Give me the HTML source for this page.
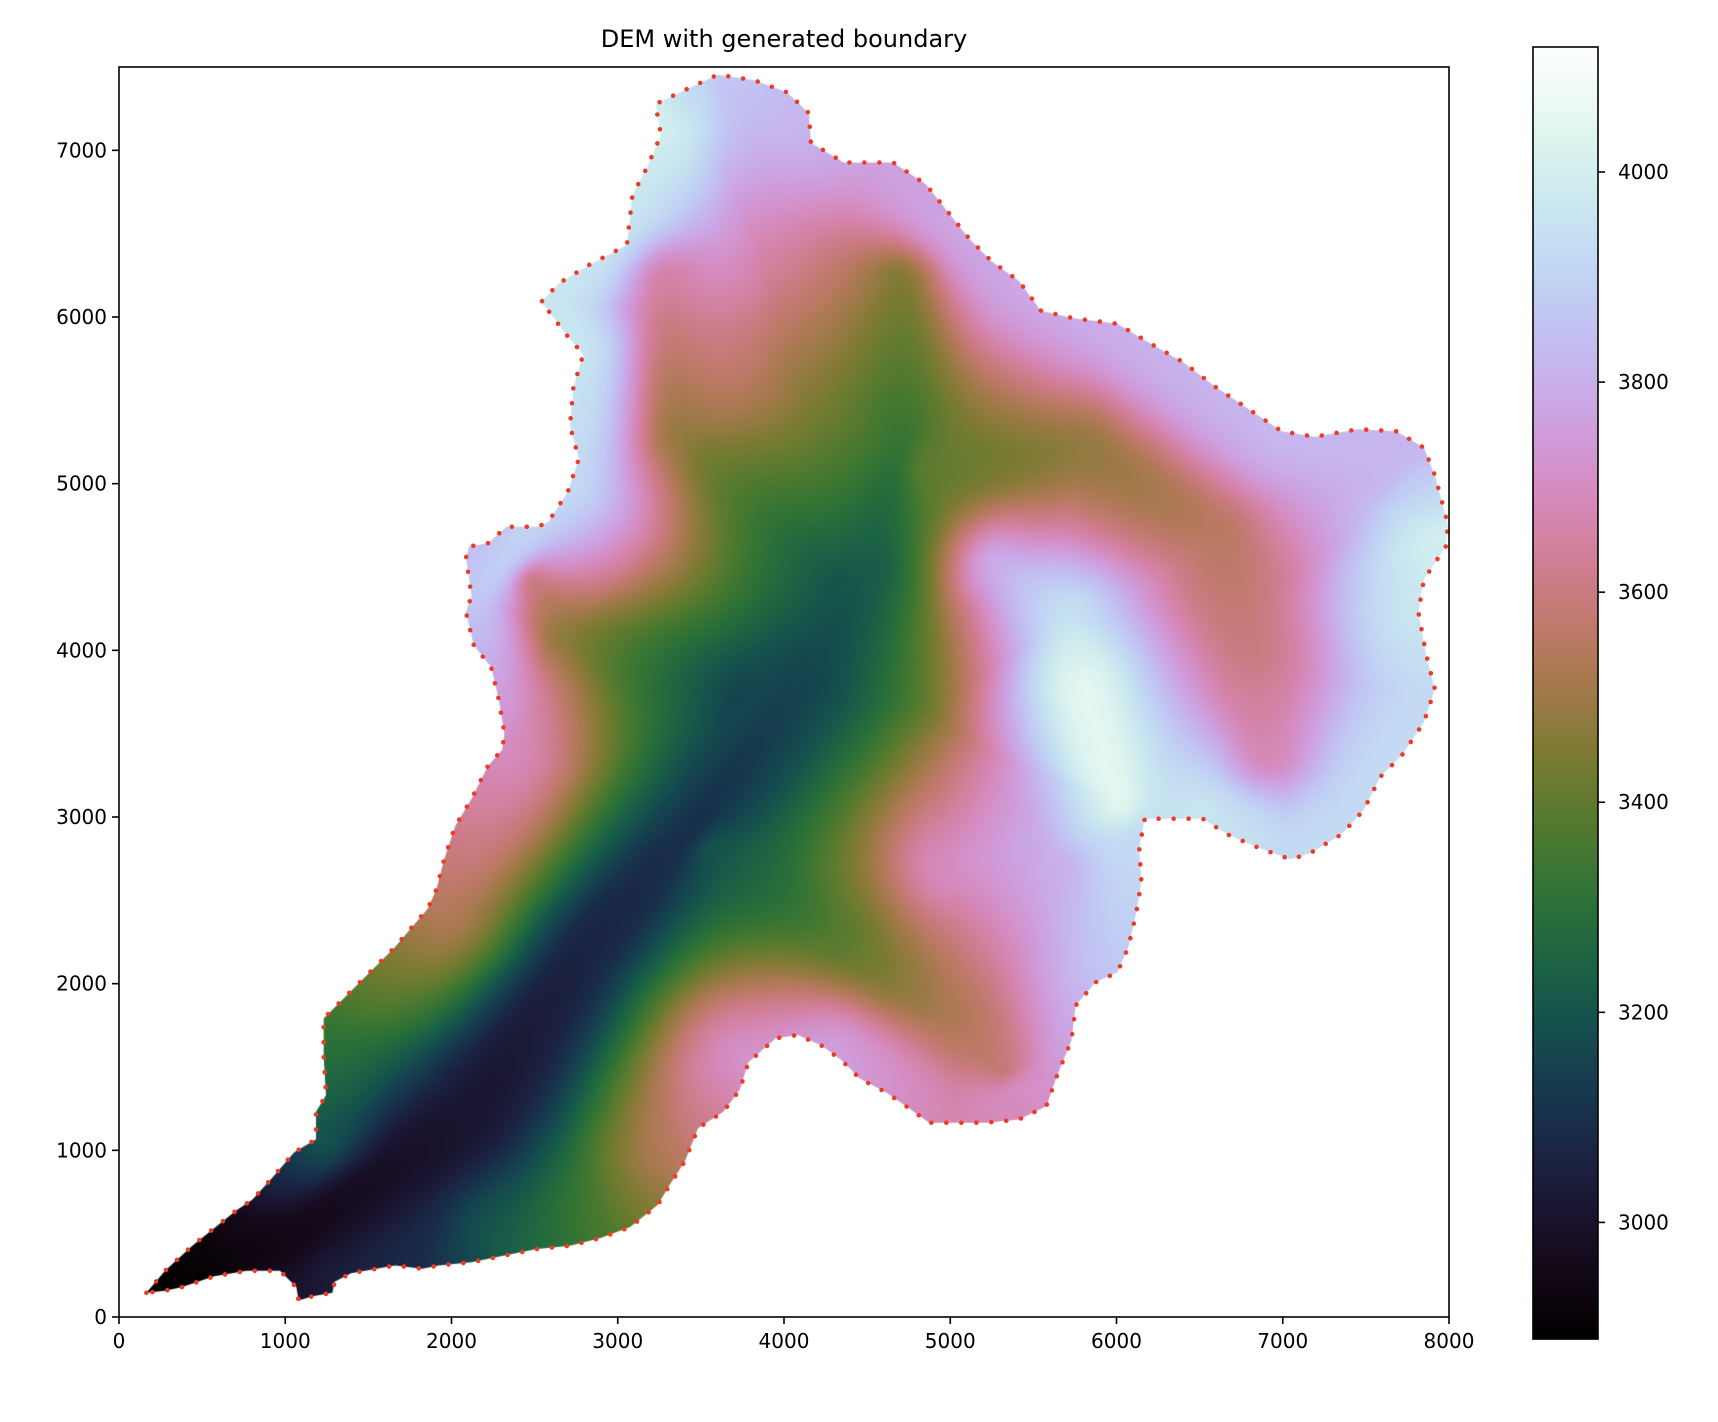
<!DOCTYPE html>
<html><head><meta charset="utf-8">
<style>
html,body{margin:0;padding:0;background:#fff;}
#root{position:relative;width:1718px;height:1422px;overflow:hidden;font-family:"DejaVu Sans","Liberation Sans",sans-serif;}
canvas,svg{position:absolute;left:0;top:0;}
</style></head>
<body>
<div id="root">
<canvas id="dem" width="1718" height="1422"></canvas>
<canvas id="cbar" width="1718" height="1422"></canvas>
<svg id="ov" width="1718" height="1422"></svg>
</div>
<script>
// ---- data (data units: metres, elevation m) ----
const xTicks=[0,1000,2000,3000,4000,5000,6000,7000,8000];
const yTicks=[0,1000,2000,3000,4000,5000,6000,7000];
const cbarTicks=[3000,3200,3400,3600,3800,4000];
const vmin=2889, vmax=4119;
const boundary=[[165,145],[277,277],[441,428],[606,560],[705,639],[803,705],[922,836],[1054,988],[1185,1067],[1185,1231],[1245,1330],[1231,1561],[1231,1791],[1330,1890],[1462,2022],[1659,2219],[1857,2450],[1910,2568],[1956,2746],[2022,2944],[2120,3108],[2219,3306],[2305,3404],[2318,3503],[2285,3701],[2239,3898],[2134,4030],[2087,4228],[2120,4326],[2087,4557],[2107,4623],[2219,4642],[2331,4741],[2515,4741],[2581,4768],[2700,4952],[2766,5149],[2713,5347],[2733,5578],[2792,5775],[2680,5907],[2568,6058],[2535,6085],[2647,6203],[2832,6315],[2996,6401],[3055,6434],[3088,6730],[3174,6894],[3260,7092],[3227,7277],[3404,7362],[3602,7454],[3819,7421],[4017,7349],[4149,7224],[4162,7046],[4359,6927],[4656,6927],[4853,6796],[4985,6631],[5117,6467],[5248,6335],[5413,6216],[5545,6038],[5742,5992],[6006,5959],[6203,5841],[6401,5729],[6598,5578],[6796,5446],[6993,5314],[7191,5281],[7454,5327],[7684,5314],[7849,5215],[7915,5051],[7968,4853],[7994,4754],[7981,4623],[7849,4425],[7816,4228],[7862,3977],[7915,3767],[7849,3569],[7718,3372],[7586,3240],[7487,3042],[7355,2897],[7158,2779],[7046,2746],[6862,2812],[6664,2897],[6519,2990],[6170,2990],[6137,2812],[6150,2614],[6117,2417],[6071,2219],[6006,2068],[5874,2008],[5755,1870],[5729,1659],[5643,1449],[5578,1264],[5413,1185],[5215,1166],[5051,1166],[4873,1166],[4754,1251],[4610,1350],[4458,1429],[4346,1541],[4228,1627],[4083,1692],[3951,1673],[3786,1528],[3734,1363],[3635,1231],[3483,1133],[3404,935],[3319,803],[3240,672],[3075,540],[2897,474],[2713,428],[2515,408],[2318,369],[2120,329],[1923,309],[1824,290],[1659,309],[1396,263],[1297,211],[1284,145],[1166,125],[1080,99],[1067,178],[968,277],[770,277],[573,244],[375,178],[277,158]];
// terrain features [x, y, elevation]
const mainValley=[[200,200,2890],[1000,450,2950],[2100,1200,3010],[2800,2200,3060],[3500,3000,3100],[4100,3800,3150],[4500,4500,3220],[4700,5300,3330],[4700,6200,3450]];
const eastValley=[[4900,5100,3400],[5800,5200,3480],[6600,4700,3550],[6800,4000,3600],[6900,3400,3680]];
const southValley=[[3600,2800,3200],[4300,2300,3380],[5000,1800,3530],[5300,1500,3580]];
const nwTributary=[[4300,4400,3200],[3400,5300,3480],[3300,6200,3650]];
const wTributary=[[3700,3700,3150],[2700,4100,3470],[2500,4400,3600]];
const centralRidge=[[5000,2700,3700],[5600,2800,3800],[6000,3100,4050],[5800,3800,4050],[5700,4200,3950],[5300,4500,3800]];
const rimRidge=[[280,280,2890],[700,640,2960],[1185,1100,3200],[1231,1800,3330],[1900,2500,3550],[2300,3400,3700],[2100,4300,3870],[2700,5000,3920],[2750,5800,3960],[2600,6100,3960],[3100,6700,3960],[3250,7200,4000],[3600,7450,3870],[4100,7200,3820],[4600,6930,3760],[5400,6200,3780],[6000,5950,3800],[7000,5300,3820],[7800,5200,3820],[7990,4700,4000],[7850,4200,3960],[7900,3700,3920],[7400,3000,3920],[7050,2750,3920],[6500,3000,3960],[6150,2800,3920],[6000,2100,3870],[5600,1400,3720],[5000,1170,3670],[4300,1550,3760],[3800,1500,3720],[3400,900,3550],[3000,500,3380],[2300,370,3220],[1800,300,3080],[1300,200,3040],[1080,100,3000],[500,250,2900]];
const featureWeights=[1,1,1,1,1,1,1.6];

// ---- geometry ----
const X0=119,Y0=67,PW=1330,PH=1250,XMAX=8000,YMAX=7500;
function sx(v){return X0+v/XMAX*PW;}
function sy(v){return Y0+PH-v/YMAX*PH;}
const CB={x:1533,y:47,w:65,h:1292};
function cy(v){return CB.y+CB.h-(v-vmin)/(vmax-vmin)*CB.h;}

function cubehelix(x){
  x=Math.max(0,Math.min(1,x));
  const a=x*(1-x)/2, phi=2*Math.PI*(0.5/3-1.5*x), c=Math.cos(phi), s=Math.sin(phi);
  const r=x+a*(-0.14861*c+1.78277*s), g=x+a*(-0.29227*c-0.90649*s), b=x+a*(1.97294*c);
  const f=v=>Math.round(255*Math.max(0,Math.min(1,v)));
  return [f(r),f(g),f(b)];
}

// ---- DEM raster ----
const features=[mainValley,eastValley,southValley,nwTributary,wTributary,centralRidge,rimRidge];
function nearest(f,x,y){
  let best=1e18,ws=0,es=0;
  for(let i=0;i<f.length-1;i++){
    const ax=f[i][0],ay=f[i][1],bx=f[i+1][0],by=f[i+1][1];
    const dx=bx-ax,dy=by-ay,L=dx*dx+dy*dy;
    let t=L>0?((x-ax)*dx+(y-ay)*dy)/L:0; t=Math.max(0,Math.min(1,t));
    const px=ax+t*dx,py=ay+t*dy,d=(x-px)*(x-px)+(y-py)*(y-py);
    const e=f[i][2]+t*(f[i+1][2]-f[i][2]);
    const w=1/Math.pow(d+2500,2);
    ws+=w;es+=w*e;
    if(d<best)best=d;
  }
  return [best,es/ws];
}
const W2=665,H2=625;
const small=document.createElement('canvas');small.width=W2;small.height=H2;
const sc=small.getContext('2d');
const img=sc.createImageData(W2,H2);
for(let j=0;j<H2;j++){
  for(let i=0;i<W2;i++){
    const k=(j*W2+i)*4;
    const x=(i+0.5)/W2*XMAX,y=YMAX-(j+0.5)/H2*YMAX;
    let ws=0,es=0;
    for(let fi=0;fi<features.length;fi++){
      const r=nearest(features[fi],x,y);const w=featureWeights[fi]/(r[0]+400);ws+=w;es+=w*r[1];
    }
    const e=es/ws;
    const c=cubehelix((e-vmin)/(vmax-vmin));
    img.data[k]=c[0];img.data[k+1]=c[1];img.data[k+2]=c[2];img.data[k+3]=255;
  }
}
sc.putImageData(img,0,0);
const ctx=document.getElementById('dem').getContext('2d');
ctx.save();
ctx.beginPath();
boundary.forEach((p,i)=>{i?ctx.lineTo(sx(p[0]),sy(p[1])):ctx.moveTo(sx(p[0]),sy(p[1]));});
ctx.closePath();ctx.clip();
ctx.imageSmoothingEnabled=true;
ctx.drawImage(small,X0,Y0,PW,PH);
ctx.restore();

// ---- colorbar ----
const cb=document.getElementById('cbar').getContext('2d');
for(let p=0;p<CB.h;p++){
  const v=vmax-(p+0.5)/CB.h*(vmax-vmin);
  const c=cubehelix((v-vmin)/(vmax-vmin));
  cb.fillStyle='rgb('+c.join(',')+')';
  cb.fillRect(CB.x,CB.y+p,CB.w,1.2);
}

// ---- SVG overlay ----
const NS='http://www.w3.org/2000/svg';
const svg=document.getElementById('ov');
function mk(tag,attrs,parent){const e=document.createElementNS(NS,tag);for(const k in attrs)e.setAttribute(k,attrs[k]);(parent||svg).appendChild(e);return e;}

const bl=mk('polygon',{points:boundary.map(p=>sx(p[0]).toFixed(1)+','+sy(p[1]).toFixed(1)).join(' '),fill:'none',stroke:'#ee3b24','stroke-width':4.6,'stroke-dasharray':'0 15','stroke-linecap':'round'});



const frame=mk('rect',{x:X0,y:Y0,width:PW,height:PH,fill:'none',stroke:'#000','stroke-width':1.6});



xTicks.forEach(v=>{
  const g=mk('g',{});
  
  
  mk('line',{x1:sx(v),x2:sx(v),y1:Y0+PH,y2:Y0+PH+7,stroke:'#000','stroke-width':1.6},g);
  const t=mk('text',{x:sx(v),y:Y0+PH+31,'text-anchor':'middle','font-size':20,fill:'#000'},g);
  t.textContent=v;
});
yTicks.forEach(v=>{
  const g=mk('g',{});
  
  
  mk('line',{x1:X0-7,x2:X0,y1:sy(v),y2:sy(v),stroke:'#000','stroke-width':1.6},g);
  const t=mk('text',{x:X0-12,y:sy(v)+7,'text-anchor':'end','font-size':20,fill:'#000'},g);
  t.textContent=v;
});
const title=mk('text',{x:X0+PW/2,y:47,'text-anchor':'middle','font-size':24,fill:'#000'});


title.textContent='DEM with generated boundary';

const cbf=mk('rect',{x:CB.x,y:CB.y,width:CB.w,height:CB.h,fill:'none',stroke:'#000','stroke-width':1.6});


cbarTicks.forEach(v=>{
  const g=mk('g',{});
  
  
  mk('line',{x1:CB.x+CB.w,x2:CB.x+CB.w+7,y1:cy(v),y2:cy(v),stroke:'#000','stroke-width':1.6},g);
  const t=mk('text',{x:CB.x+CB.w+20,y:cy(v)+7,'text-anchor':'start','font-size':20,fill:'#000'},g);
  t.textContent=v;
});
</script>
</body></html>
